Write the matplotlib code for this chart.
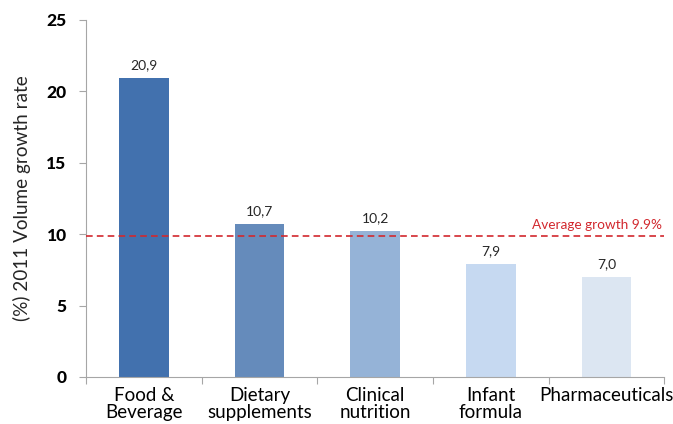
import matplotlib
matplotlib.use("Agg")
import matplotlib.pyplot as plt
import numpy as np

categories = ["Food &\nBeverage", "Dietary\nsupplements", "Clinical\nnutrition",
              "Infant\nformula", "Pharmaceuticals"]
values = [20.9, 10.7, 10.2, 7.9, 7.0]
value_labels = ["20,9", "10,7", "10,2", "7,9", "7,0"]
average = 9.9
average_label = "Average growth 9.9%"
y_ticks = [0, 5, 10, 15, 20, 25]

colors = ["#4271AE", "#658BBB", "#95B3D7", "#C6D9F1", "#DCE6F2"]

plt.rcParams["font.family"] = ["Lato", "DejaVu Sans"]

fig = plt.figure(figsize=(6.73, 4.24), dpi=100)
ax = fig.add_axes([0.128, 0.111, 0.859, 0.842])

x = np.arange(len(categories))
bars = ax.bar(x, values, width=0.43, color=colors, zorder=2)

for xi, v, lab in zip(x, values, value_labels):
    ax.annotate(lab, (xi, v), xytext=(0, 5), textcoords="offset points",
                ha="center", va="bottom", fontsize=10, color="#262626")

ax.axhline(average, color="#D2282E", linestyle=(0, (4, 2.5)), linewidth=1.2, zorder=3)
ax.text(len(categories) - 0.52, average + 0.3, average_label, ha="right", va="bottom",
        fontsize=9.8, color="#D2282E")

ax.set_xlim(-0.5, len(categories) - 0.5)
ax.set_ylim(0, 25)
ax.set_yticks(y_ticks)
ax.set_yticklabels([str(t) for t in y_ticks], fontweight="black", fontsize=12.5)

ax.set_xticks(x)
ax.set_xticklabels(categories, fontsize=13.5, linespacing=1.0)
ax.tick_params(axis="x", length=0, pad=7)
ax.set_xticks(np.arange(len(categories) + 1) - 0.5, minor=True)
ax.tick_params(axis="x", which="minor", length=5, color="#A6A6A6", width=0.8)
ax.tick_params(axis="y", length=5, color="#A6A6A6", width=0.8, pad=9)

for s in ["top", "right"]:
    ax.spines[s].set_visible(False)
for s in ["left", "bottom"]:
    ax.spines[s].set_color("#A6A6A6")
    ax.spines[s].set_linewidth(0.8)

ax.set_ylabel("(%) 2011 Volume growth rate", fontsize=13.6, color="#262626", labelpad=11)

fig.savefig("out.png", dpi=100, facecolor="white")
